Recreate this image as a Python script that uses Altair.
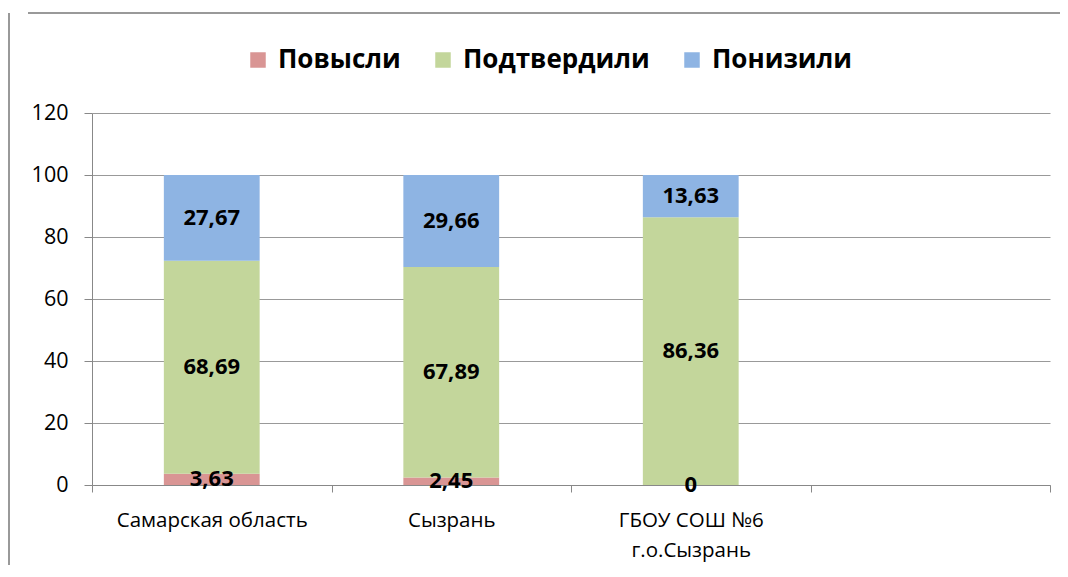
import altair as alt
import pandas as pd

categories = ["Самарская область", "Сызрань", "ГБОУ СОШ №6\nг.о.Сызрань", " "]
series = ["Повысли", "Подтвердили", "Понизили"]
colors = ["#D99594", "#C3D69B", "#8EB4E3"]
povysili = [3.63, 2.45, 0.0]
podtverdili = [68.69, 67.89, 86.36]
ponizili = [27.67, 29.66, 13.63]

rows = []
for i, cat in enumerate(categories[:3]):
    for j, (s, vals) in enumerate(zip(series, [povysili, podtverdili, ponizili])):
        rows.append({"cat": cat, "series": s, "order": j, "value": vals[i]})
df = pd.DataFrame(rows)

FONT = "Open Sans"

xscale = alt.Scale(domain=categories, paddingInner=0, paddingOuter=0)
x = alt.X("cat:N", scale=xscale, sort=categories,
          axis=alt.Axis(title=None, labelAngle=0, labelFontSize=20.5, labelFont=FONT,
                        labelColor="#000", tickBand="extent", tickSize=7, tickColor="#888",
                        domainColor="#888", labelPadding=18, labelLineHeight=30,
                        labelLimit=400, labelExpr="split(datum.label, '\\n')"))
y = alt.Y("value:Q", stack="zero", scale=alt.Scale(domain=[0, 120]),
          axis=alt.Axis(title=None, values=[0, 20, 40, 60, 80, 100, 120], labelFontSize=21.5,
                        labelFont=FONT, labelColor="#000", tickSize=8, tickColor="#888",
                        domainColor="#888", gridColor="#999", labelPadding=16))

base = alt.Chart(df)
bars = base.mark_bar(width=alt.RelativeBandSize(0.4)).encode(
    x=x, y=y,
    color=alt.Color("series:N", scale=alt.Scale(domain=series, range=colors),
                    legend=alt.Legend(title=None, orient="none", legendX=153, legendY=-66,
                                      direction="horizontal", labelFontSize=26,
                                      labelFontWeight="bold", labelFont=FONT, labelColor="#000",
                                      symbolType="square", symbolSize=240, symbolStrokeWidth=0,
                                      columnPadding=29, labelLimit=300, labelOffset=7)),
    order=alt.Order("order:Q"),
)
labels = base.mark_text(fontSize=22, fontWeight="bold", font=FONT, color="#000").encode(
    x=alt.X("cat:N", sort=categories, scale=xscale),
    y=alt.Y("mid:Q"),
    text="lbl:N",
).transform_calculate(
    lbl="replace(format(datum.value, '.2~f'), '.', ',')"
).transform_window(
    cum="sum(value)", sort=[alt.SortField("order")], groupby=["cat"]
).transform_calculate(
    mid="datum.cum - datum.value / 2"
)

border_top = alt.Chart(df).mark_rule(color="#999", strokeWidth=2).encode(
    x=alt.value(-64), x2=alt.value(1000), y=alt.value(-100))
border_left = alt.Chart(df).mark_rule(color="#999", strokeWidth=2).encode(
    x=alt.value(-83), y=alt.value(-100), y2=alt.value(500))

chart = alt.layer(bars, labels, border_top, border_left).properties(
    width=958, height=372,
    padding={"left": 84, "top": 105, "right": 10, "bottom": 80},
    autosize="none",
).configure_view(stroke=None)

chart.save("out.html", embed_options={"renderer": "svg", "actions": False})
